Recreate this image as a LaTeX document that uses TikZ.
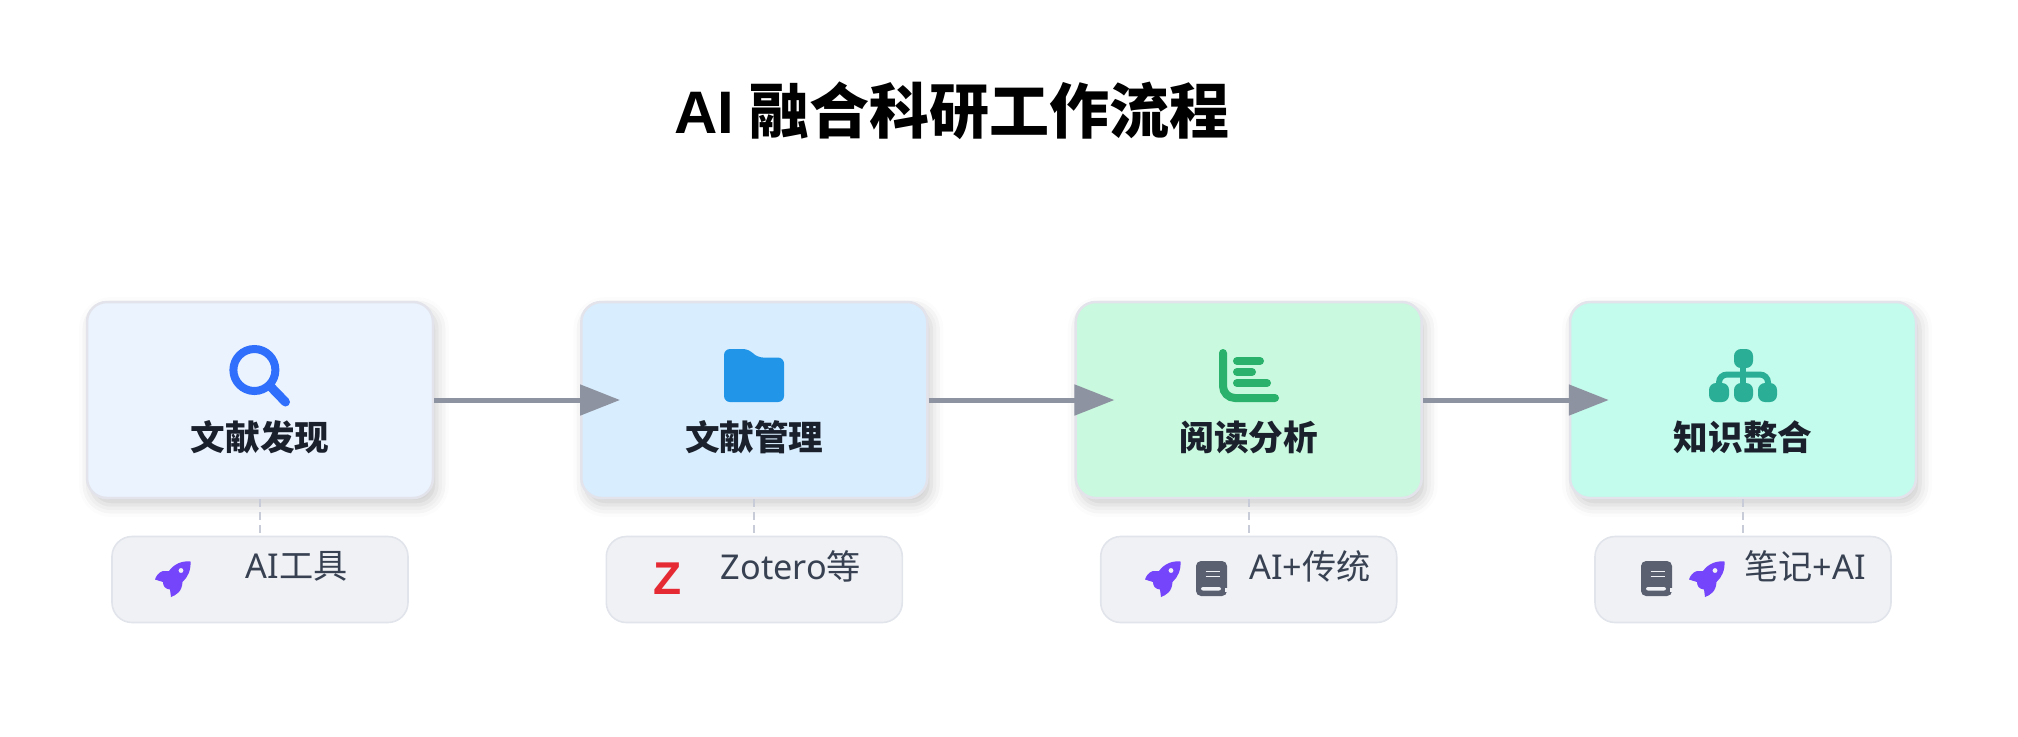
\documentclass[tikz,border=0pt]{standalone}
\usepackage{fontspec}
\setmainfont{Noto Sans}
\newfontfamily\cjk{Noto Sans CJK SC}
\newfontfamily\heavy{Liberation Sans}
\usetikzlibrary{arrows.meta,shadows.blur}
\definecolor{boxa}{HTML}{EBF3FE}
\definecolor{boxb}{HTML}{D8EDFD}
\definecolor{boxc}{HTML}{C9F9DE}
\definecolor{boxd}{HTML}{C3FBEC}
\definecolor{edge}{HTML}{E2E3EB}
\definecolor{subfill}{HTML}{EFF1F5}
\definecolor{subedge}{HTML}{E1E4EA}
\definecolor{flowc}{HTML}{8E93A1}
\definecolor{tiec}{HTML}{C8CCD8}
\definecolor{labelc}{HTML}{1A202C}
\definecolor{subc}{HTML}{374151}
\definecolor{rocketc}{HTML}{7445FA}
\definecolor{bookc}{HTML}{5A6070}
\definecolor{searchc}{HTML}{2F6FFB}
\definecolor{folderc}{HTML}{2196E8}
\definecolor{chartc}{HTML}{2AB16B}
\definecolor{sitec}{HTML}{2BAE96}
\definecolor{zc}{HTML}{E52A33}
\tikzset{
	stepbox/.style={rectangle,draw=edge,line width=1.25pt,rounded corners=10pt,minimum width=173pt,minimum height=98pt,
		blur shadow={shadow xshift=2pt,shadow yshift=-3.5pt,shadow blur radius=6pt,shadow opacity=20}},
	toolbox/.style={rectangle,draw=subedge,fill=subfill,line width=.8pt,rounded corners=10pt,minimum width=148pt,minimum height=43pt},
	steptext/.style={font=\fontsize{17.3}{20}\selectfont\bfseries\cjk,text=labelc,inner sep=0pt},
	tooltext/.style={font=\fontsize{17.1}{20}\selectfont,text=subc,inner sep=0pt},
	flow/.style={-{Triangle[length=20pt,width=15pt]},draw=flowc,line width=2.5pt,shorten >=-20pt},
	tie/.style={draw=tiec,line width=1.1pt,dash pattern=on 4pt off 2.5pt},
	rocket/.pic={
		\fill[rocketc] (35.5,0.5) .. controls (27,-0.5) and (19,3) .. (14,10) -- (8,10) .. controls (4,11) and (1,15) .. (0,18.5)
			-- (8,21) .. controls (8,25) and (10,28) .. (15,28.5) -- (16,36) .. controls (21,34) and (27,31) .. (27.5,21)
			.. controls (33,16) and (36,9) .. (35.5,0.5) -- cycle;
		\fill[subfill] (26,9.5) circle (2.4);
	},
	book/.pic={
		\fill[bookc,rounded corners=2.5pt] (0,0) rectangle (31,35);
		\fill[subfill] (29,27) rectangle (31.5,31);
		\fill[subfill,rounded corners=1pt] (5,26) rectangle (25,29.5);
		\draw[subfill,line width=.8pt] (9.5,10.5) -- (24,10.5);
		\draw[subfill,line width=.8pt] (9.5,15.5) -- (24,15.5);
	},
}
\begin{document}
\begin{tikzpicture}[x=.5pt,y=-.5pt]

	\useasboundingbox (0,0) rectangle (2018,736);

	\node(title) at (952,111)[font=\fontsize{30}{36}\selectfont\bfseries,text=black,inner sep=0pt]{{\heavy AI} {\cjk 融合科研工作流程}};

	\node(box1) at (260,400)[stepbox,fill=boxa]{};
	\node(box2) at (754.3,400)[stepbox,fill=boxb]{};
	\node(box3) at (1248.7,400)[stepbox,fill=boxc]{};
	\node(box4) at (1743,400)[stepbox,fill=boxd]{};

	\node(tool1) at (260,579.5)[toolbox]{};
	\node(tool2) at (754.3,579.5)[toolbox]{};
	\node(tool3) at (1248.7,579.5)[toolbox]{};
	\node(tool4) at (1743,579.5)[toolbox]{};

	\draw[flow] (box1) -- (box2);
	\draw[flow] (box2) -- (box3);
	\draw[flow] (box3) -- (box4);

	\draw[tie] (box1) -- (tool1);
	\draw[tie] (box2) -- (tool2);
	\draw[tie] (box3) -- (tool3);
	\draw[tie] (box4) -- (tool4);

	\node(step1) at (260,437)[steptext]{文献发现};
	\node(step2) at (754.3,437)[steptext]{文献管理};
	\node(step3) at (1248.7,437)[steptext]{阅读分析};
	\node(step4) at (1743,437)[steptext]{知识整合};

	\node(text1) at (296.5,566)[tooltext]{AI{\cjk 工具}};
	\node(text2) at (791,566)[tooltext]{Zotero{\cjk 等}};
	\node(text3) at (1310,566)[tooltext]{AI+{\cjk 传统}};
	\node(text4) at (1805,566)[tooltext]{{\cjk 笔记}+AI};

	\draw[searchc,line width=4pt] (254.4,370) circle (21);
	\draw[searchc,line width=4.5pt,line cap=round] (270,386) -- (285.5,402);

	\fill[folderc,rounded corners=3pt] (724,402) -- (724,349) -- (749,349) -- (757,357.5) -- (784,357.5) -- (784,402) -- cycle;

	\draw[chartc,line width=4pt,line cap=round,rounded corners=6pt] (1223,353) -- (1223,398) -- (1275,398);
	\draw[chartc,line width=4pt,line cap=round] (1237,361) -- (1260,361);
	\draw[chartc,line width=4pt,line cap=round] (1237,372) -- (1252,372);
	\draw[chartc,line width=4pt,line cap=round] (1237,383) -- (1267,383);

	\draw[sitec,line width=3pt] (1743,360) -- (1743,390);
	\draw[sitec,line width=3pt,rounded corners=4pt] (1719,390) -- (1719,374.5) -- (1768,374.5) -- (1768,390);
	\fill[sitec,rounded corners=3.5pt] (1734,349) rectangle (1753,368);
	\fill[sitec,rounded corners=3.5pt] (1709,383) rectangle (1729,402);
	\fill[sitec,rounded corners=3.5pt] (1734,383) rectangle (1753,402);
	\fill[sitec,rounded corners=3.5pt] (1758,383) rectangle (1777,402);

	\pic at (155,561) {rocket};
	\node(zmark) at (668,578.5)[font=\fontsize{23}{26}\selectfont\bfseries\heavy,text=zc,inner sep=0pt]{Z};
	\pic at (1145,561) {rocket};
	\pic at (1196,561) {book};
	\pic at (1641,561) {book};
	\pic at (1689,561) {rocket};

\end{tikzpicture}
\end{document}
